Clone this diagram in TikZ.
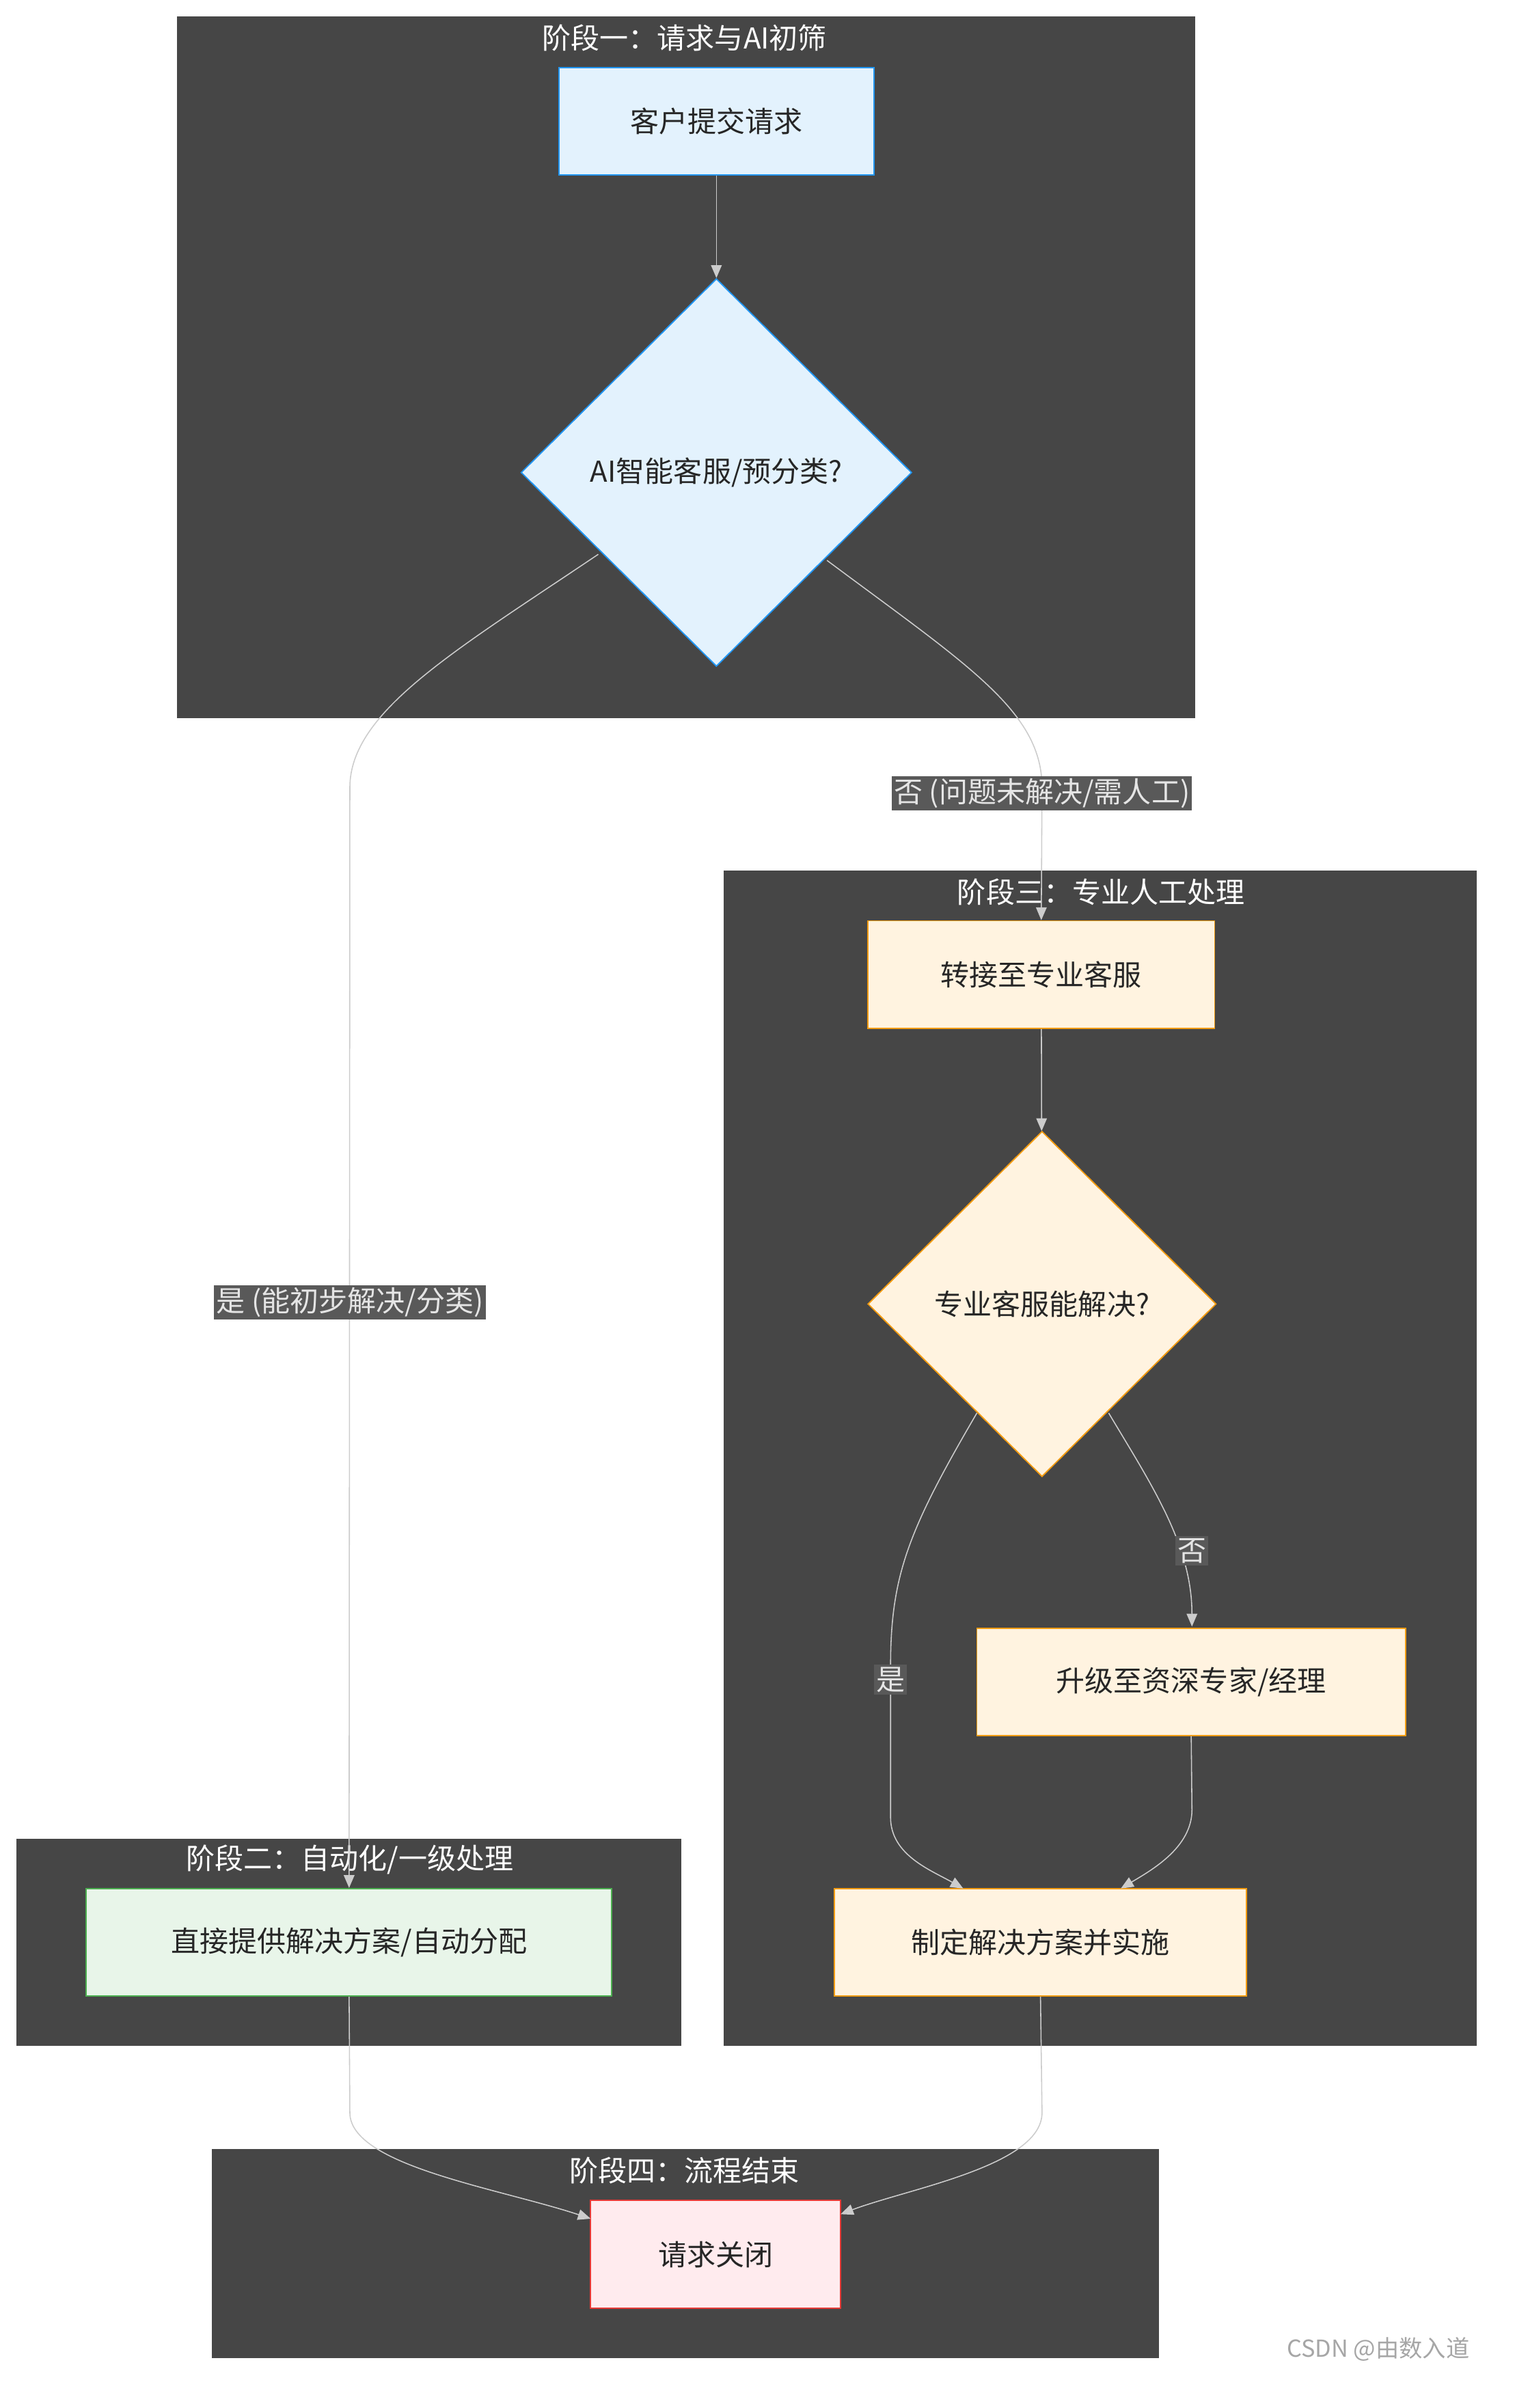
\documentclass[tikz,border=0pt]{standalone}
\usepackage{fontspec}
\setmainfont{Noto Sans CJK SC}
\usetikzlibrary{shapes.geometric,arrows.meta}
\begin{document}
\begin{tikzpicture}[x=0.5mm,y=-0.5mm,
 cl/.style={fill=clus,draw=none},
 ttl/.style={text=white,font=\fontsize{27}{30}\selectfont},
 bx/.style={draw,line width=1.2pt,minimum height=71*0.5mm,font=\fontsize{27}{30}\selectfont,text=black!85},
 dm/.style={diamond,draw,line width=1.2pt,inner sep=0pt,minimum width=258*0.5mm,minimum height=256*0.5mm,font=\fontsize{27}{30}\selectfont,text=black!85},
 ed/.style={draw=edgec,line width=1pt,-{Triangle[length=12pt,width=10pt]}},
 lb/.style={fill=labbg,text=black!10,inner sep=2pt,font=\fontsize{27}{30}\selectfont}]
\definecolor{clus}{HTML}{464646}
\definecolor{edgec}{HTML}{CCCCCC}
\definecolor{labbg}{HTML}{595959}
\definecolor{bluef}{HTML}{E3F2FD}\definecolor{blued}{HTML}{2196F3}
\definecolor{orf}{HTML}{FFF3E0}\definecolor{ord}{HTML}{F39C12}
\definecolor{grf}{HTML}{E8F5E9}\definecolor{grd}{HTML}{4CAF50}
\definecolor{rdf}{HTML}{FFEBEE}\definecolor{rdd}{HTML}{E53935}
\useasboundingbox[fill=white] (0,0) rectangle (1000,1590);
\fill[cl] (117,11) rectangle (789,474);
\fill[cl] (478,575) rectangle (975,1351);
\fill[cl] (11,1214) rectangle (450,1351);
\fill[cl] (140,1419) rectangle (765,1557);
\node[ttl] (t1) at (452,25) {阶段一：请求与AI初筛};
\node[ttl] (t3) at (727,589) {阶段三：专业人工处理};
\node[ttl] (t2) at (231,1228) {阶段二：自动化/一级处理};
\node[ttl] (t4) at (452,1433) {阶段四：流程结束};
\node[bx,fill=bluef,draw=blued,minimum width=208*0.5mm] (A) at (473,80) {客户提交请求};
\node[dm,fill=bluef,draw=blued] (B) at (473,312) {AI智能客服/预分类?};
\node[bx,fill=orf,draw=ord,minimum width=229*0.5mm] (C) at (687.5,643.5) {转接至专业客服};
\node[dm,fill=orf,draw=ord,minimum width=230*0.5mm,minimum height=228*0.5mm] (D) at (688,861) {专业客服能解决?};
\node[bx,fill=orf,draw=ord,minimum width=283*0.5mm] (E) at (786.5,1110.5) {升级至资深专家/经理};
\node[bx,fill=orf,draw=ord,minimum width=272*0.5mm] (F) at (687,1282.5) {制定解决方案并实施};
\node[bx,fill=grf,draw=grd,minimum width=347*0.5mm] (G) at (230.5,1282.5) {直接提供解决方案/自动分配};
\node[bx,fill=rdf,draw=rdd,minimum width=165*0.5mm] (H) at (472.5,1488.5) {请求关闭};
\node[text=gray!70,font=\fontsize{22}{24}\selectfont] (wm) at (910,1551) {CSDN @由数入道};
\draw[ed] (A) -- (B);
\draw[ed] (395,366) .. controls (300,430) and (231,470) .. (231,520) -- (G.north);
\draw[ed] (546,370) .. controls (640,440) and (688,470) .. (688,520) -- (C.north);
\draw[ed] (C) -- (D);
\draw[ed] (645,933) .. controls (600,1010) and (588,1040) .. (588,1100) -- (588,1200) .. controls (588,1225) and (615,1235) .. (636,1247);
\draw[ed] (732,933) .. controls (760,980) and (787,1020) .. (787,1074);
\draw[ed] (E.south) -- (787,1195) .. controls (787,1220) and (760,1235) .. (740,1247);
\draw[ed] (G.south) -- (231,1395) .. controls (231,1430) and (330,1445) .. (390,1465);
\draw[ed] (F.south) -- (688,1395) .. controls (688,1430) and (600,1445) .. (555,1462);
\node[lb] (l1) at (231,860) {是 (能初步解决/分类)};
\node[lb] (l2) at (688,524) {否 (问题未解决/需人工)};
\node[lb] (l3) at (588,1109) {是};
\node[lb] (l4) at (787,1024) {否};
\end{tikzpicture}
\end{document}
